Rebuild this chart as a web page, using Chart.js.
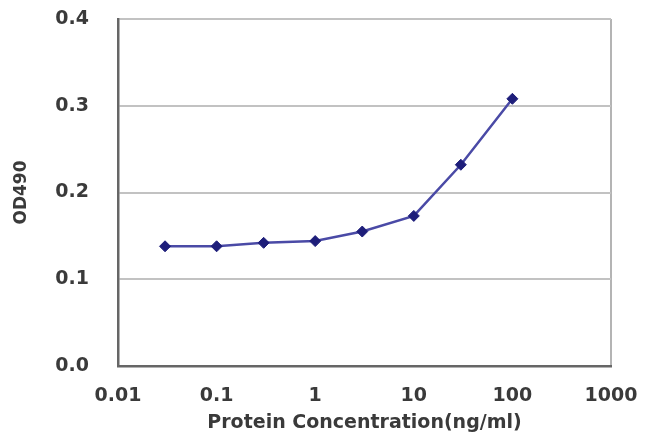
<!DOCTYPE html>
<html>
<head>
<meta charset="utf-8">
<script src="https://cdn.jsdelivr.net/npm/chart.js@4/dist/chart.umd.min.js"></script>
<style>
html,body{margin:0;padding:0;background:#fff;}
#wrap{width:650px;height:443px;position:relative;}
</style>
</head>
<body>
<div id="wrap"><canvas id="c" width="650" height="443"></canvas></div>
<script>
const concentrations = [0.03, 0.1, 0.3, 1, 3, 10, 30, 100];
const od490 = [0.138, 0.138, 0.142, 0.144, 0.155, 0.173, 0.232, 0.308];
const xTickValues = [0.01, 0.1, 1, 10, 100, 1000];
const xTickLabels = ['0.01', '0.1', '1', '10', '100', '1000'];
const yTickLabels = ['0.0', '0.1', '0.2', '0.3', '0.4'];

const points = concentrations.map((x, i) => ({x: x, y: od490[i]}));
const textColor = '#3a3a3a';

new Chart(document.getElementById('c'), {
  type: 'scatter',
  data: {
    datasets: [{
      data: points,
      showLine: true,
      borderColor: '#4a4aa6',
      borderWidth: 2.5,
      pointStyle: 'rectRot',
      pointRadius: 5.5,
      pointBackgroundColor: '#1e1e7a',
      pointBorderColor: '#1e1e7a',
      pointBorderWidth: 1,
      tension: 0
    }]
  },
  options: {
    responsive: false,
    animation: false,
    events: [],
    layout: {padding: {top: 19, right: 39, left: 0, bottom: 0}},
    plugins: {legend: {display: false}, tooltip: {enabled: false}},
    scales: {
      x: {
        type: 'logarithmic',
        min: 0.01,
        max: 1000,
        afterBuildTicks: (s) => { s.ticks = xTickValues.map(v => ({value: v})); },
        afterFit: (s) => { s.height = 77; s.paddingLeft = 0; s.paddingRight = 0; },
        ticks: {
          autoSkip: false,
          maxRotation: 0,
          padding: 19,
          color: textColor,
          font: {family: 'DejaVu Sans', weight: 'bold', size: 19},
          callback: (v, i) => xTickLabels[i]
        },
        grid: {
          drawTicks: false,
          lineWidth: 2,
          color: (ctx) => (ctx.tick && ctx.tick.value === 1000) ? '#b4b4b4' : 'rgba(0,0,0,0)'
        },
        border: {display: true, color: '#666', width: 2.5},
        title: {
          display: true,
          text: 'Protein Concentration(ng/ml)',
          color: textColor,
          font: {family: 'DejaVu Sans', weight: 'bold', size: 19, lineHeight: 1.2},
          padding: {top: 0, bottom: 9}
        }
      },
      y: {
        min: 0,
        max: 0.4,
        afterFit: (s) => { s.width = 118; s.paddingTop = 0; s.paddingBottom = 0; },
        ticks: {
          stepSize: 0.1,
          padding: 29,
          color: textColor,
          font: {family: 'DejaVu Sans', weight: 'bold', size: 19},
          callback: (v, i) => yTickLabels[i]
        },
        grid: {
          drawTicks: false,
          lineWidth: 2,
          color: (ctx) => (ctx.tick && ctx.tick.value > 0) ? '#c2c2c2' : 'rgba(0,0,0,0)'
        },
        border: {display: true, color: '#666', width: 2.5},
        title: {
          display: true,
          text: 'OD490',
          color: textColor,
          font: {family: 'DejaVu Sans', weight: 'bold', size: 17, lineHeight: 1.2},
          padding: {top: 11, bottom: 0}
        }
      }
    }
  }
});
</script>
</body>
</html>
